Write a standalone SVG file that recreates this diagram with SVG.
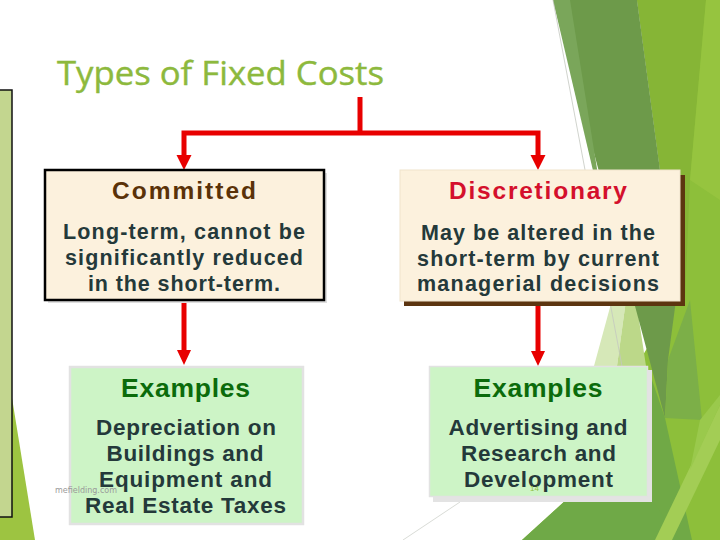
<svg xmlns="http://www.w3.org/2000/svg" width="720" height="540" viewBox="0 0 720 540">
<style>
.hd{font-family:"Liberation Sans",Arial,sans-serif;font-weight:bold;text-anchor:middle}
.bd{font-family:"Liberation Sans",Arial,sans-serif;font-weight:bold;font-size:21.5px;fill:#24393a;text-anchor:middle}
.ex{font-size:22.5px}
.red{fill:#e80000}
.ln{fill:none;stroke:#e80000;stroke-width:5;stroke-linejoin:miter}
</style>
<rect width="720" height="540" fill="#ffffff"/>
<g id="background">
  <polygon points="637,0 720,0 720,540 522,540 566,500 640,360 676,300 660,170" fill="#8dbf3a"/>
  <polygon points="637,0 706,0 690,180 685,300 676,300 660,170" fill="#86b536"/>
  <polygon points="706,0 720,0 720,200 690,180" fill="#96c43f"/>
  <polygon points="612,300 626,300 617,366 594,366" fill="#d6e8b8"/>
  <polygon points="626,300 636,300 646,366 617,366" fill="#bcd889"/>
  <polygon points="553,0 637,0 660,170 676,300 668,360 665,418" fill="#6d9a4a"/>
  <polygon points="553,0 570,0 598,175 594,175" fill="#7aa65a"/>
  <polygon points="668,360 690,300 702,420 665,418" fill="#7caf48"/>
  <polygon points="652,380 665,418 692,540 652,540" fill="#70a946"/>
  <polygon points="522,540 566,500 652,500 680,540" fill="#6fa947"/>
  <polygon points="720,405 720,440 672,540 655,540" fill="#a3cd55"/>
  <polygon points="700,420 720,395 720,405 690,470" fill="#9ac94c"/>
  <line x1="553" y1="0" x2="622" y2="366" stroke="#c4c8c0" stroke-width="0.8"/>
  <line x1="460" y1="502" x2="403" y2="540" stroke="#cfd2cc" stroke-width="0.8"/>
  <polygon points="0,400 12,398 35,540 0,540" fill="#9dc441"/>
  <rect x="-1" y="90" width="13" height="427" fill="#c3d68f" stroke="#111" stroke-width="1.5"/>
</g>
<text x="57" y="85" font-family="'Open Sans','DejaVu Sans',sans-serif" font-size="32" fill="#8db93d" stroke="#8db93d" stroke-width="0.4" textLength="327" lengthAdjust="spacingAndGlyphs">Types of Fixed Costs</text>
<g id="connectors">
  <path class="ln" d="M360,97 V133"/>
  <path class="ln" d="M184,156 V133 H538 V156"/>
  <polygon class="red" points="176.5,155 191.5,155 184,170"/>
  <polygon class="red" points="530.5,155 545.5,155 538,170"/>
  <path class="ln" d="M184,301 V352" stroke-width="4.5"/>
  <polygon class="red" points="177,350 191,350 184,365"/>
  <path class="ln" d="M538,306 V352" stroke-width="4.5"/>
  <polygon class="red" points="531,351 545,351 538,366"/>
</g>
<g id="committed">
  <rect x="48" y="173" width="279" height="130" fill="#dedede"/>
  <rect x="45" y="170" width="279" height="130" fill="#fcf1dd" stroke="#000" stroke-width="2.5"/>
  <text class="hd" x="184" y="199" font-size="24.5" fill="#5a3208" textLength="144">Committed</text>
  <text class="bd" x="184" y="239" textLength="242">Long-term, cannot be</text>
  <text class="bd" x="184" y="265" textLength="238">significantly reduced</text>
  <text class="bd" x="184" y="291" textLength="192">in the short-term.</text>
</g>
<g id="discretionary">
  <rect x="404" y="175" width="281" height="131" fill="#5c3510"/>
  <rect x="400" y="170" width="280" height="131" fill="#fcf1dd" stroke="#efe3cc" stroke-width="1"/>
  <text class="hd" x="538" y="199" font-size="24.5" fill="#d4102c" textLength="178">Discretionary</text>
  <text class="bd" x="538" y="240" textLength="234">May be altered in the</text>
  <text class="bd" x="538" y="266" textLength="242">short-term by current</text>
  <text class="bd" x="538" y="291" textLength="242">managerial decisions</text>
</g>
<g id="examples-committed">
  <rect x="70" y="367" width="233" height="157" fill="#cdf4c6" stroke="#e2e2e2" stroke-width="2.5"/>
  <text class="hd" x="185.5" y="397" font-size="26.5" fill="#0b6b0b" textLength="129">Examples</text>
  <text class="bd ex" x="186" y="435" textLength="180">Depreciation on</text>
  <text class="bd ex" x="185" y="461" textLength="157">Buildings and</text>
  <text class="bd ex" x="185.5" y="487" textLength="173">Equipment and</text>
  <text class="bd ex" x="185.5" y="513" textLength="201">Real Estate Taxes</text>
</g>
<g id="examples-discretionary">
  <rect x="433" y="370" width="219" height="132" fill="#e3e3e3"/>
  <rect x="429.5" y="366.5" width="218" height="130" fill="#cdf4c6" stroke="#e2e2e2" stroke-width="1.5"/>
  <text class="hd" x="538" y="397" font-size="26.5" fill="#0b6b0b" textLength="129">Examples</text>
  <text class="bd ex" x="538" y="435" textLength="179">Advertising and</text>
  <text class="bd ex" x="538.5" y="461" textLength="155">Research and</text>
  <text class="bd ex" x="538.5" y="487" textLength="149">Development</text>
</g>
<text x="55" y="492.5" font-family="'DejaVu Sans',sans-serif" font-size="8" fill="#9a9a9a" textLength="62">mefielding.com</text>
<text x="530" y="491" font-family="'Liberation Sans',sans-serif" font-size="8" fill="#90c040">14</text>
</svg>
